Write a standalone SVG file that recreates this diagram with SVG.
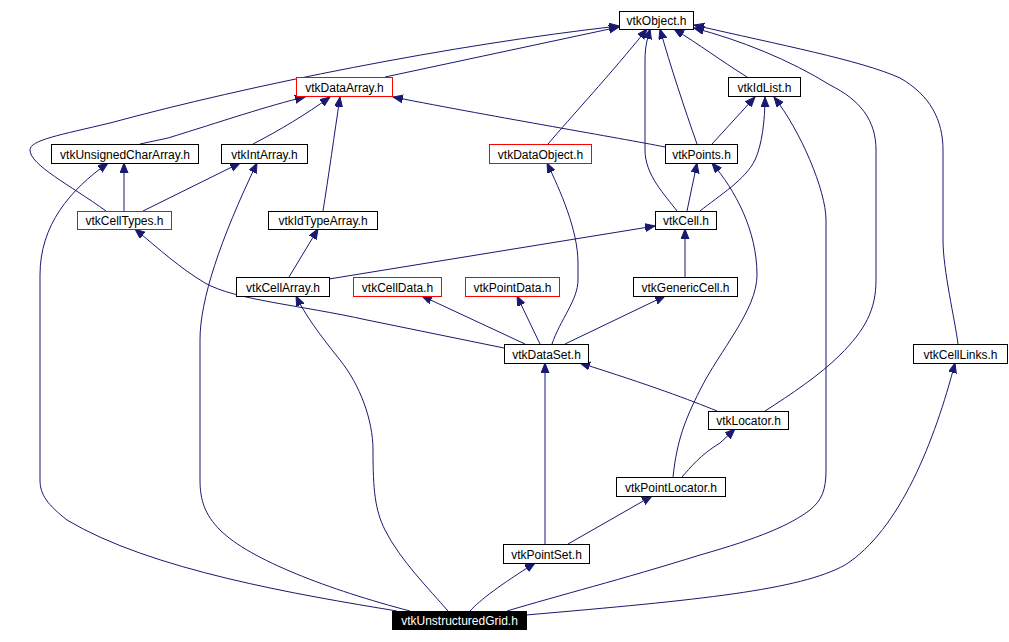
<svg xmlns="http://www.w3.org/2000/svg" width="1009" height="642" viewBox="0 0 1009 642">
<style>
.n rect{fill:#fff;stroke:#000;stroke-width:1}
.n.r rect{stroke:#f00}
.n text{font-family:"Liberation Sans",Arial,sans-serif;font-size:12px;text-anchor:middle;fill:#000}
.n.h rect{fill:#000;stroke:#000}
.n.h text{fill:#fff}
#edges path{fill:none;stroke:#191970;stroke-width:1;marker-end:url(#a)}
</style>
<defs>
<marker id="a" markerUnits="userSpaceOnUse" markerWidth="11" markerHeight="9" refX="10" refY="4" orient="auto">
<path d="M0,0 L10,4 L0,8 z" fill="#191970" stroke="#191970" stroke-width="1"/>
</marker>
</defs>
<rect width="1009" height="642" fill="#fff"/>
<g id="edges">
<path d="M385,77 L619,27"/>
<path d="M106,211 C70,185 30,165 30,150 C30,140 60,135 110,123 C250,85 450,45 619,26"/>
<path d="M140,144 L168,138 C220,122 270,105 305,97"/>
<path d="M253,144 C280,130 305,115 330,97"/>
<path d="M323,211 C328,180 335,130 340,97"/>
<path d="M665,147 C620,138 500,118 393,97"/>
<path d="M548,144 C570,118 610,75 647,29"/>
<path d="M677,211 C665,195 645,175 645,150 L645,60 C645,45 648,37 650,29"/>
<path d="M697,144 C685,110 670,65 660,29"/>
<path d="M747,77 C720,60 700,45 674,29"/>
<path d="M765,411 C790,395 820,375 840,355 C865,330 876,310 876,280 L876,150 C876,120 860,100 830,85 C790,60 740,40 694,28"/>
<path d="M958,344 C955,320 943,270 943,240 L943,150 C943,120 930,95 900,78 C860,60 780,45 694,25"/>
<path d="M712,144 L755,97"/>
<path d="M700,211 C720,195 745,180 755,160 C762,145 765,120 765,97"/>
<path d="M507,611 C560,595 620,580 700,555 C760,538 790,525 810,510 C822,500 826,490 826,470 L826,220 C826,190 800,130 774,97"/>
<path d="M124,211 L124,163"/>
<path d="M143,211 L240,163"/>
<path d="M397,611 C300,595 150,570 67,520 C48,505 40,495 40,480 L40,275 C40,225 70,190 108,163"/>
<path d="M410,611 C330,590 250,560 220,530 C205,515 200,500 200,480 L200,340 C200,300 220,240 257,163"/>
<path d="M289,277 L318,229"/>
<path d="M687,211 L697,163"/>
<path d="M673,477 C677,440 685,420 700,390 C720,350 757,310 757,275 C757,230 735,190 712,163"/>
<path d="M329,279 L655,226"/>
<path d="M685,277 L685,229"/>
<path d="M504,348 L367,320 C300,305 235,300 205,283 C180,268 160,250 135,229"/>
<path d="M552,344 C560,320 578,300 578,280 L578,263 C578,230 560,190 547,163"/>
<path d="M525,344 L422,296"/>
<path d="M540,344 L517,296"/>
<path d="M565,344 L665,296"/>
<path d="M448,611 C430,590 400,560 385,530 C375,510 373,490 373,450 C373,420 360,385 340,360 C320,335 305,315 296,296"/>
<path d="M717,411 C690,400 650,385 580,363"/>
<path d="M545,544 L545,363"/>
<path d="M682,477 C690,468 700,455 720,443 L735,429"/>
<path d="M568,544 L652,496"/>
<path d="M470,611 C480,600 500,585 535,563"/>
<path d="M526,615 C700,600 800,590 845,565 C900,530 935,440 955,363"/>
</g>
<g id="vtkObject" class="n"><rect x="619.5" y="11.5" width="74" height="18"/><text x="656.5" y="25">vtkObject.h</text></g>
<g id="vtkDataArray" class="n r"><rect x="296.5" y="77.5" width="96" height="19"/><text x="344.5" y="91.5">vtkDataArray.h</text></g>
<g id="vtkIdList" class="n"><rect x="728.5" y="77.5" width="72" height="19"/><text x="764.5" y="91.5">vtkIdList.h</text></g>
<g id="vtkUnsignedCharArray" class="n"><rect x="51.5" y="144.5" width="147" height="19"/><text x="125" y="158.5">vtkUnsignedCharArray.h</text></g>
<g id="vtkIntArray" class="n"><rect x="221.5" y="144.5" width="86" height="19"/><text x="264.5" y="158.5">vtkIntArray.h</text></g>
<g id="vtkDataObject" class="n r"><rect x="489.5" y="144.5" width="102" height="19"/><text x="540.5" y="158.5">vtkDataObject.h</text></g>
<g id="vtkPoints" class="n"><rect x="665.5" y="144.5" width="72" height="19"/><text x="701.5" y="158.5">vtkPoints.h</text></g>
<g id="vtkCellTypes" class="n r"><rect x="77.5" y="211.5" width="94" height="18"/><text x="124.5" y="225">vtkCellTypes.h</text></g>
<g id="vtkIdTypeArray" class="n"><rect x="268.5" y="211.5" width="109" height="18"/><text x="323" y="225">vtkIdTypeArray.h</text></g>
<g id="vtkCell" class="n"><rect x="655.5" y="211.5" width="61" height="18"/><text x="686" y="225">vtkCell.h</text></g>
<g id="vtkCellArray" class="n"><rect x="236.5" y="277.5" width="93" height="19"/><text x="283" y="291.5">vtkCellArray.h</text></g>
<g id="vtkCellData" class="n r"><rect x="353.5" y="277.5" width="88" height="19"/><text x="397.5" y="291.5">vtkCellData.h</text></g>
<g id="vtkPointData" class="n r"><rect x="465.5" y="277.5" width="94" height="19"/><text x="512.5" y="291.5">vtkPointData.h</text></g>
<g id="vtkGenericCell" class="n"><rect x="633.5" y="277.5" width="104" height="19"/><text x="685.5" y="291.5">vtkGenericCell.h</text></g>
<g id="vtkDataSet" class="n"><rect x="504.5" y="344.5" width="84" height="19"/><text x="546.5" y="358.5">vtkDataSet.h</text></g>
<g id="vtkCellLinks" class="n"><rect x="913.5" y="344.5" width="94" height="19"/><text x="960.5" y="358.5">vtkCellLinks.h</text></g>
<g id="vtkLocator" class="n"><rect x="708.5" y="411.5" width="80" height="18"/><text x="748.5" y="425">vtkLocator.h</text></g>
<g id="vtkPointLocator" class="n"><rect x="616.5" y="477.5" width="109" height="19"/><text x="671" y="491.5">vtkPointLocator.h</text></g>
<g id="vtkPointSet" class="n"><rect x="503.5" y="544.5" width="86" height="19"/><text x="546.5" y="558.5">vtkPointSet.h</text></g>
<g id="vtkUnstructuredGrid" class="n h"><rect x="392.5" y="611.5" width="134" height="18"/><text x="459.5" y="625">vtkUnstructuredGrid.h</text></g>
</svg>
